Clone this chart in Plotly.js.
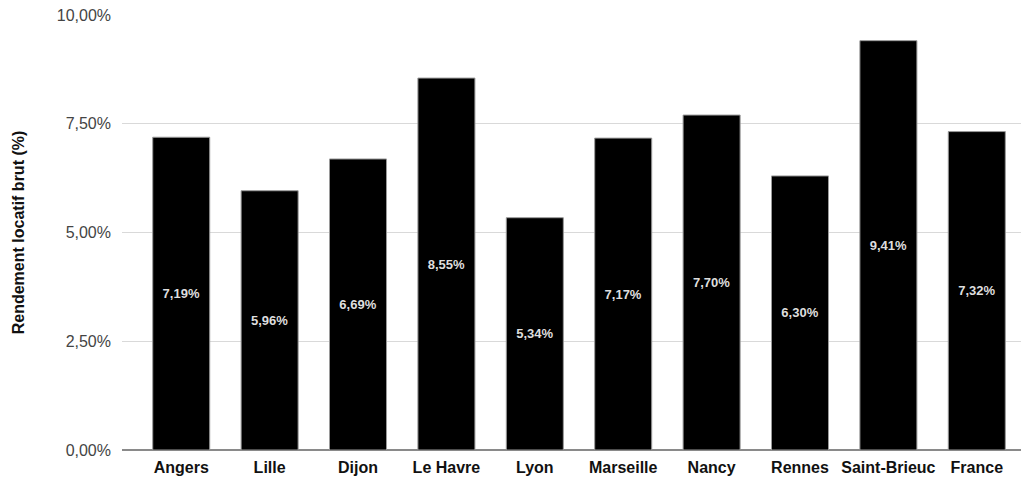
<!DOCTYPE html>
<html><head><meta charset="utf-8">
<script src="https://cdn.plot.ly/plotly-3.0.1.min.js"></script>
<style>html,body{margin:0;padding:0;background:#fff}#c{width:1027px;height:481px}</style>
</head><body><div id="c"></div>
<script>
const categories = ["Angers","Lille","Dijon","Le Havre","Lyon","Marseille","Nancy","Rennes","Saint-Brieuc","France"];
const rendement = [7.19,5.96,6.69,8.55,5.34,7.17,7.70,6.30,9.41,7.32];
const yTicks = [0,2.5,5,7.5,10];
const fmt = v => v.toFixed(2).replace('.', ',') + '%';

const trace = {
  type: 'bar',
  x: categories,
  y: rendement,
  width: 0.645,
  marker: {color: '#000000', line: {color: '#9a9a9a', width: 1}},
  text: rendement.map(fmt),
  textposition: 'inside',
  insidetextanchor: 'middle',
  textangle: 0,
  textfont: {family: 'Liberation Sans, Arial, sans-serif', size: 13, color: '#dedede', weight: 'bold'},
  cliponaxis: false,
  hoverinfo: 'none'
};

const layout = {
  width: 1027, height: 481,
  margin: {l: 122, r: 6, t: 15, b: 31},
  paper_bgcolor: '#fff', plot_bgcolor: '#fff',
  showlegend: false,
  font: {family: 'Liberation Sans, Arial, sans-serif'},
  xaxis: {
    range: [-0.67, 9.5],
    tickfont: {size: 16, color: '#111', weight: 'bold'},
    ticks: '', ticklabelstandoff: 6,
    showgrid: false, zeroline: false, showline: false, fixedrange: true
  },
  yaxis: {
    range: [0, 10],
    tickvals: yTicks,
    ticktext: yTicks.map(fmt),
    tickfont: {size: 16, color: '#444'},
    ticks: '', ticklen: 0, ticklabelstandoff: 10,
    showgrid: true, gridcolor: '#d9d9d9', gridwidth: 1,
    zeroline: true, zerolinecolor: '#8a8a8a', zerolinewidth: 1.5,
    title: {text: 'Rendement locatif brut (%)', font: {size: 16, color: '#111', weight: 'bold'}, standoff: 28}
  }
};
Plotly.newPlot('c', [trace], layout, {staticPlot: true, displayModeBar: false});
</script></body></html>
